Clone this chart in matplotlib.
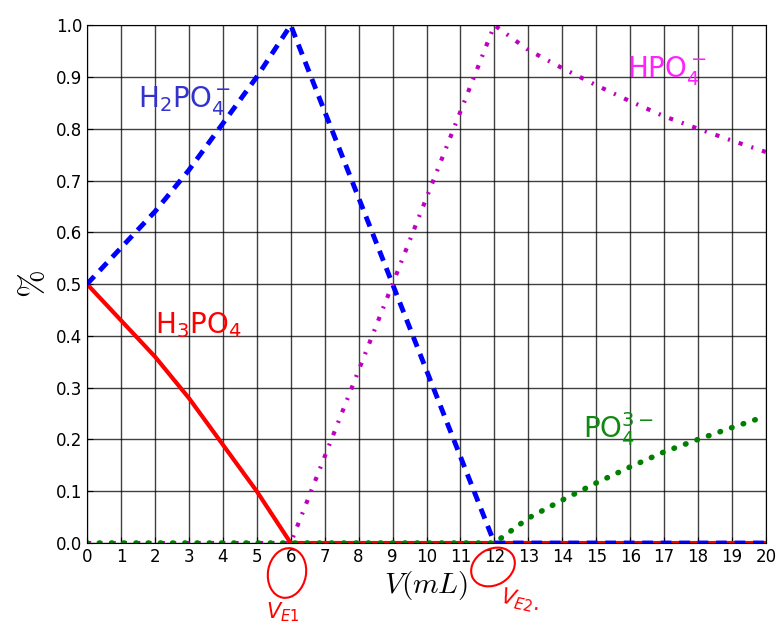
import matplotlib
matplotlib.use('Agg')
import matplotlib.pyplot as plt
from matplotlib.patches import Ellipse

# volume ajouté (mL)
v = list(range(0, 21))

h3po4 = [0.50, 0.43, 0.36, 0.28, 0.19, 0.10, 0.0,
         0, 0, 0, 0, 0, 0, 0, 0, 0, 0, 0, 0, 0, 0]
h2po4 = [0.50, 0.57, 0.64, 0.72, 0.81, 0.90, 1.0,
         0.8333, 0.6667, 0.5, 0.3333, 0.1667, 0.0,
         0, 0, 0, 0, 0, 0, 0, 0]
hpo4 = [0, 0, 0, 0, 0, 0, 0.0,
        0.1667, 0.3333, 0.5, 0.6667, 0.8333, 1.0,
        0.952, 0.917, 0.884, 0.853, 0.824, 0.80, 0.777, 0.755]
po4 = [0, 0, 0, 0, 0, 0, 0, 0, 0, 0, 0, 0, 0.0,
       0.048, 0.083, 0.116, 0.147, 0.176, 0.20, 0.223, 0.245]

xticks = list(range(0, 21))
yticks = [i / 10 for i in range(0, 11)]

fig = plt.figure(figsize=(7.79, 6.29), dpi=100)
ax = fig.add_axes([0.1117, 0.1367, 0.8716, 0.8233])

ax.plot(v, h3po4, color='red', lw=3, ls='-')
ax.plot(v, h2po4, color='blue', lw=3.5, ls=(0, (2.2, 1.6)))
ax.plot(v, hpo4, color='#bf00bf', lw=3, ls=(0, (1, 2.2, 0.5, 2.2)))
ax.plot(v, po4, color='green', lw=4, ls=(0, (0.1, 2.1)), dash_capstyle='round')

ax.set_xlim(0, 20)
ax.set_ylim(0, 1.0)
ax.set_xticks(xticks)
ax.set_yticks(yticks)
ax.set_yticklabels([f'{t:.1f}' for t in yticks])
ax.tick_params(labelsize=12, direction='in', length=4)
ax.grid(True, color='black', lw=1, ls='-', alpha=0.75)
ax.set_xlabel('$V(mL)$', fontsize=21, labelpad=2, math_fontfamily='cm')
ax.set_ylabel('$\\%$', fontsize=24, math_fontfamily='cm')

# annotations manuscrites
ax.text(1.5, 0.855, 'H$_2$PO$_4^-$', color='#3333cc', fontsize=20, va='center')
ax.text(15.9, 0.913, 'HPO$_4^-$', color='#ff22ff', fontsize=20, va='center')
ax.text(2.0, 0.42, 'H$_3$PO$_4$', color='red', fontsize=20, va='center')
ax.text(14.6, 0.22, 'PO$_4^{3-}$', color='#118811', fontsize=20, va='center')

# cercles autour des volumes équivalents (en pouces, pour garder la forme)
fig.patches.append(Ellipse((2.87, 0.56), 0.38, 0.50, angle=-10, color='red',
                           fill=False, lw=1.5, transform=fig.dpi_scale_trans))
fig.patches.append(Ellipse((4.93, 0.62), 0.46, 0.36, angle=30, color='red',
                           fill=False, lw=1.5, transform=fig.dpi_scale_trans))
fig.text(2.83, 0.17, '$V_{E1}$', color='red', fontsize=15, ha='center',
         va='center', transform=fig.dpi_scale_trans)
fig.text(5.2, 0.28, '$V_{E2}.$', color='red', fontsize=15, ha='center',
         va='center', rotation=-12, transform=fig.dpi_scale_trans)

plt.savefig('out.png', dpi=100)
